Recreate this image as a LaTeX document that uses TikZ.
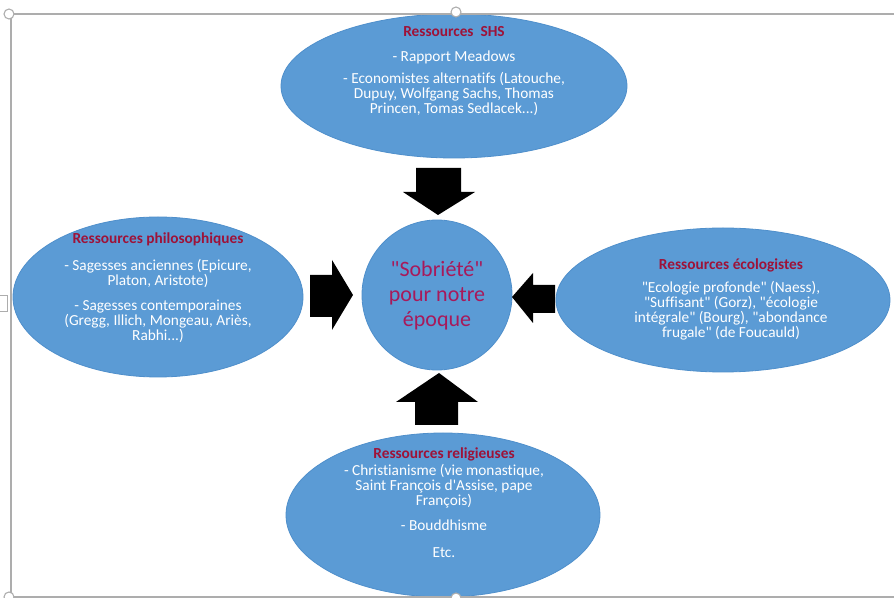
\documentclass[tikz,border=0pt]{standalone}
\usepackage{fontspec}
\setmainfont{Carlito}
\newfontfamily\plainfont{Carlito}[Ligatures=NoCommon]
\usetikzlibrary{shapes.geometric}
\definecolor{office}{HTML}{5B9BD5}
\definecolor{officeline}{HTML}{4F8FCB}
\definecolor{ttl}{HTML}{9E1238}
\definecolor{ctr}{HTML}{A8195A}
\definecolor{framegray}{HTML}{ADADAD}
\newcommand{\ttltext}[1]{\textcolor{ttl}{\bfseries #1}}
\begin{document}
\begin{tikzpicture}[x=0.75pt,y=-0.75pt,
  blob/.style={ellipse, fill=office, draw=officeline, line width=0.6pt, inner sep=0pt},
  body/.style={text=white, align=center, inner sep=0pt, font=\plainfont\fontsize{11.5}{11.25}\selectfont},
  blockarrow/.style={fill=black},
  handle/.style={circle, fill=white, draw=framegray, line width=0.8pt, inner sep=0pt, minimum size=7.5pt}]
\useasboundingbox (0,0) rectangle (894,598);
\fill[white] (0,0) rectangle (894,598);

% ellipses
\node[blob, minimum width=259.5pt, minimum height=108pt] (shs) at (454,86) {};
\node[blob, minimum width=217.5pt, minimum height=120pt] (philo) at (158,297) {};
\node[blob, minimum width=250.5pt, minimum height=108pt] (eco) at (723,300) {};
\node[blob, minimum width=235.5pt, minimum height=123pt] (relig) at (443,515) {};
\node[blob, circle, minimum size=112.5pt] (center) at (437,295) {};

% texts
\node[body] (shsT) at (454,71.5) {\ttltext{Ressources\ \ SHS}\\[7.5pt]
- Rapport Meadows\\[5.25pt]
- Economistes alternatifs (Latouche,\\
Dupuy, Wolfgang Sachs, Thomas\\
Princen, Tomas Sedlacek...)};

\node[body] (philoT) at (158,288) {\ttltext{Ressources philosophiques}\\[8.5pt]
- Sagesses anciennes (Epicure,\\
Platon, Aristote)\\[8pt]
- Sagesses contemporaines\\
(Gregg, Illich, Mongeau, Ariès,\\
Rabhi...)};

\node[body] (ecoT) at (731,299) {\ttltext{Ressources écologistes}\\[6pt]
"Ecologie profonde" (Naess),\\
"Suffisant" (Gorz), "écologie\\
intégrale" (Bourg), "abondance\\
frugale" (de Foucauld)};

\node[body] (religT) at (444,502.5) {\ttltext{Ressources religieuses}\\[1.5pt]
- Christianisme (vie monastique,\\
Saint François d'Assise, pape\\
François)\\[7.5pt]
- Bouddhisme\\[9pt]
Etc.};

\node[align=center, inner sep=0pt, text=ctr, font=\plainfont\fontsize{16.5}{18.75}\selectfont] (centerT) at (437,296)
{"Sobriété"\\pour notre\\époque};

% block arrows
\fill[blockarrow] (416,168) -- (461,168) -- (461,192) -- (475,192) -- (438,215) -- (403,192) -- (416,192) -- cycle;
\fill[blockarrow] (310,275) -- (332,275) -- (332,260) -- (353,295) -- (332,330) -- (332,317) -- (310,317) -- cycle;
\fill[blockarrow] (555,285) -- (533,285) -- (533,273) -- (512,297) -- (533,323) -- (533,313) -- (555,313) -- cycle;
\fill[blockarrow] (415,425) -- (415,402) -- (396,402) -- (439,373) -- (478,402) -- (458,402) -- (458,425) -- cycle;

% selection frame
\draw[framegray, line width=1.1pt] (11,597) -- (11,14) -- (900,14);
\draw[framegray, line width=1.1pt] (11,597) -- (900,597);
\node[handle] (hTop) at (456,12) {};
\node[handle] (hBot) at (456,598) {};
\node[handle] (hTL) at (9,14) {};
\node[handle] (hBL) at (9,597) {};
\node[fill=white, draw=framegray, line width=0.6pt, minimum width=6pt, minimum height=12pt, inner sep=0pt] (hL) at (3,303) {};
\end{tikzpicture}
\end{document}
